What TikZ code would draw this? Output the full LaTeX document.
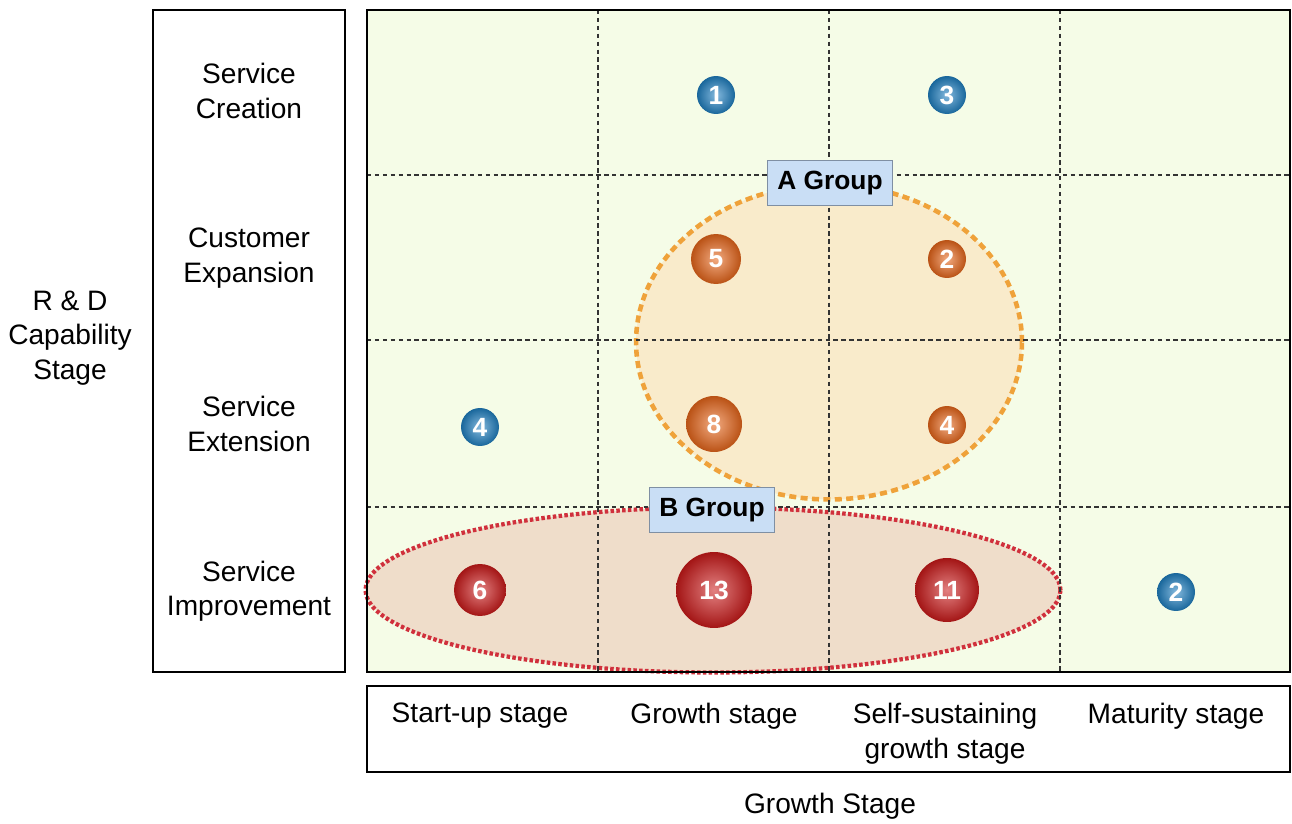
\documentclass[tikz,border=0pt]{standalone}
\usepackage{fontspec}
\setmainfont{Liberation Sans}
\usetikzlibrary{shapes.geometric}
\definecolor{fieldgreen}{HTML}{F5FCE7}
\definecolor{grpafill}{HTML}{F9EBCB}
\definecolor{grpaedge}{HTML}{EFA23A}
\definecolor{grpbfill}{HTML}{EFDDCA}
\definecolor{grpbedge}{HTML}{D0303C}
\definecolor{tagblue}{HTML}{C9DEF5}
\definecolor{tagbluee}{HTML}{7F8FA3}
\definecolor{ballblue}{HTML}{1F80C2}
\definecolor{ballorange}{HTML}{E8661A}
\definecolor{ballred}{HTML}{CC1A1A}

\begin{document}
\begin{tikzpicture}[
    x=0.02cm, y=-0.02cm,
    font=\fontsize{16}{19.6}\selectfont,
    frame/.style={draw=black, line width=1.2pt},
    gridline/.style={draw=black!80, line width=1pt, dash pattern=on 2.5pt off 2pt},
    grpa/.style={ellipse, fill=grpafill, draw=grpaedge, line width=2.6pt, dash pattern=on 4pt off 2.5pt},
    grpb/.style={ellipse, fill=grpbfill, draw=grpbedge, line width=2.4pt, dash pattern=on 2pt off 1.3pt},
    tag/.style={rectangle, draw=tagbluee, fill=tagblue, line width=0.8pt, minimum width=2.5cm, minimum height=0.9cm, inner sep=0pt, font=\fontsize{15}{18}\selectfont\bfseries},
    bub/.style={circle, inner color=#1!55!white, outer color=#1!80!black, inner sep=0pt, text=white, font=\fontsize{15}{18}\selectfont\bfseries},
    rowlbl/.style={align=center},
    collbl/.style={align=center, anchor=north}
  ]
  \useasboundingbox (0,0) rectangle (1292,824);

  % field and label columns
  \fill[fieldgreen] (367,10) rectangle (1290,672);
  \node[grpa, minimum width=7.72cm, minimum height=6.3cm] (ga) at (829,342) {};
  \node[grpb, minimum width=13.9cm, minimum height=3.3cm] (gb) at (713,590) {};

  \foreach \gx in {598,829,1060}
    \draw[gridline] (\gx,10) -- (\gx,672);
  \foreach \gy in {175,340,507}
    \draw[gridline] (367,\gy) -- (1290,\gy);

  \draw[frame] (367,10) rectangle (1290,672);
  \draw[frame] (153,10) rectangle (345,672);
  \draw[frame] (367,686) rectangle (1290,772);

  % row labels
  \node[rowlbl] (r1) at (249,91) {Service\\Creation};
  \node[rowlbl] (r2) at (249,258) {Customer\\Expansion};
  \node[rowlbl] (r3) at (249,424) {Service\\Extension};
  \node[rowlbl] (r4) at (249,591) {Service\\Improvement};
  \node[rowlbl] (yax) at (70,338) {R \& D\\Capability\\Stage};

  % column labels
  \node[collbl] (c1) at (480,697) {Start-up stage};
  \node[collbl] (c2) at (714,697) {Growth stage};
  \node[collbl] (c3) at (945,697) {Self-sustaining\\growth stage};
  \node[collbl] (c4) at (1176,697) {Maturity stage};
  \node (xax) at (830,806) {Growth Stage};

  % counts
  \node[bub=ballblue, minimum size=0.76cm] (n1) at (716,95) {1};
  \node[bub=ballblue, minimum size=0.76cm] (n3) at (947,95) {3};
  \node[bub=ballorange, minimum size=1.0cm] (n5) at (716,259) {5};
  \node[bub=ballorange, minimum size=0.76cm] (n2) at (947,259) {2};
  \node[bub=ballblue, minimum size=0.76cm] (n4b) at (480,427) {4};
  \node[bub=ballorange, minimum size=1.12cm] (n8) at (714,424) {8};
  \node[bub=ballorange, minimum size=0.76cm] (n4) at (947,425) {4};
  \node[bub=ballred, minimum size=1.04cm] (n6) at (480,590) {6};
  \node[bub=ballred, minimum size=1.52cm] (n13) at (714,590) {13};
  \node[bub=ballred, minimum size=1.28cm] (n11) at (947,590) {11};
  \node[bub=ballblue, minimum size=0.76cm] (n2b) at (1176,592) {2};

  % group tags
  \node[tag] (ta) at (830,183) {A Group};
  \node[tag] (tb) at (712,510) {B Group};
\end{tikzpicture}
\end{document}
